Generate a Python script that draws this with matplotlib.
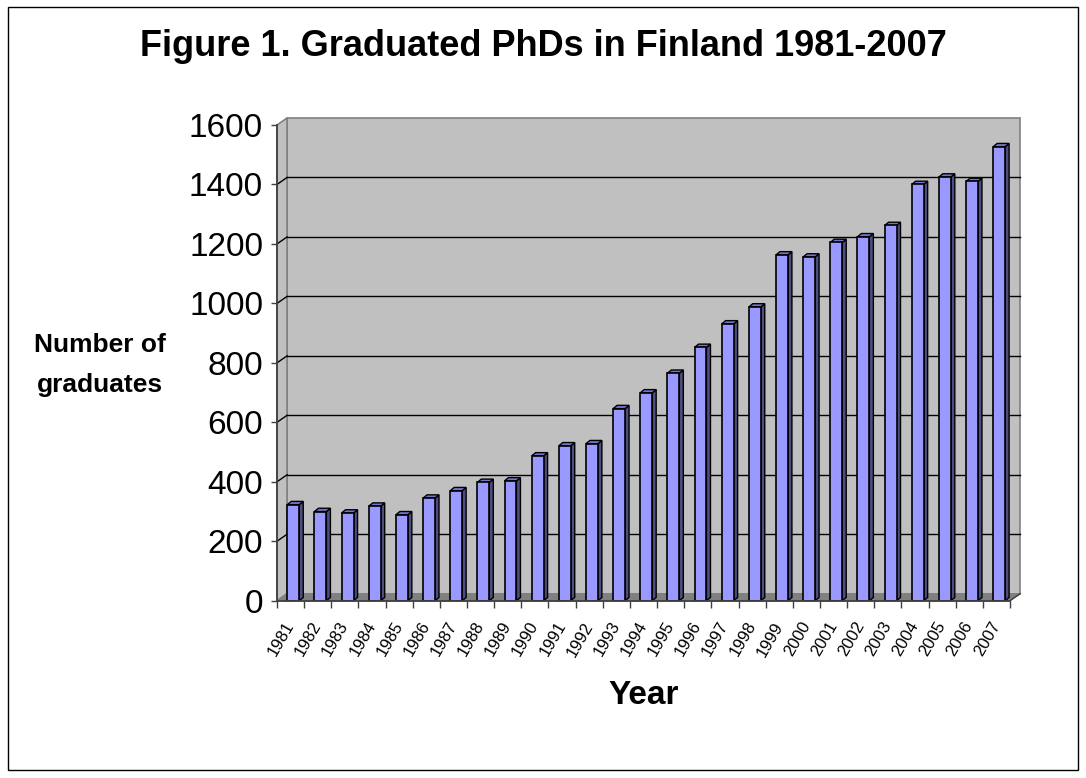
import matplotlib
matplotlib.use("Agg")
import matplotlib.pyplot as plt
from matplotlib.patches import Polygon, Rectangle
import numpy as np

plt.rcParams['font.family'] = ['Liberation Sans', 'DejaVu Sans']

years = ['1981', '1982', '1983', '1984', '1985', '1986', '1987', '1988', '1989',
         '1990', '1991', '1992', '1993', '1994', '1995', '1996', '1997', '1998',
         '1999', '2000', '2001', '2002', '2003', '2004', '2005', '2006', '2007']
graduates = [323, 300, 295, 318, 289, 345, 370, 398, 403, 487, 521, 528, 646, 699,
             765, 852, 931, 988, 1163, 1156, 1205, 1224, 1262, 1400, 1425, 1410, 1527]
y_ticks = [0, 200, 400, 600, 800, 1000, 1200, 1400, 1600]

title = 'Figure 1. Graduated PhDs in Finland 1981-2007'
ylabel = 'Number of\ngraduates'
xlabel = 'Year'

WALL = '#C0C0C0'
FLOOR = '#808080'
EDGE_GRAY = '#808080'
FRONT = '#9999FF'
SIDE = '#4D4D80'
TOP = '#7373CC'

fig = plt.figure(figsize=(10.86, 7.78), dpi=100)
fig.patch.set_facecolor('white')
fig.add_artist(Rectangle((8 / 1086, 8 / 778), 1 - 16 / 1086, 1 - 15 / 778,
                         transform=fig.transFigure, fill=False,
                         edgecolor='black', linewidth=1))

ax = fig.add_axes([277 / 1086, 1 - 600.7 / 778, 733 / 1086, 475.7 / 778])
ax.set_facecolor('none')

n = len(years)
x = np.arange(n)
x0, x1 = -0.5, n - 0.5
ymax = y_ticks[-1]
ax.set_xlim(x0, x1)
ax.set_ylim(0, ymax)

# 3D depth of the chart box (data units)
dx, dy = 0.37, 23.5

# back wall, side wall, floor
ax.add_patch(Polygon([(x0 + dx, dy), (x1 + dx, dy), (x1 + dx, ymax + dy), (x0 + dx, ymax + dy)],
                     closed=True, facecolor=WALL, edgecolor=EDGE_GRAY, lw=1.2,
                     clip_on=False, zorder=0))
ax.add_patch(Polygon([(x0, 0), (x0 + dx, dy), (x0 + dx, ymax + dy), (x0, ymax)],
                     closed=True, facecolor=WALL, edgecolor=EDGE_GRAY, lw=1.2,
                     clip_on=False, zorder=0.5))
ax.add_patch(Polygon([(x0, 0), (x1, 0), (x1 + dx, dy), (x0 + dx, dy)],
                     closed=True, facecolor=FLOOR, edgecolor=EDGE_GRAY, lw=1,
                     clip_on=False, zorder=0.5))

# gridlines on back wall and side wall
for v in y_ticks[1:-1]:
    ax.plot([x0 + dx, x1 + dx], [v + dy, v + dy], color='black', lw=1, zorder=1, clip_on=False)
    ax.plot([x0, x0 + dx], [v, v + dy], color='black', lw=1, zorder=1, clip_on=False)

# bars with faux 3D faces
bw = 0.44
shift = 0.1
bdx, bdy = 0.147, 11.0
for xi, v in zip(x, graduates):
    l = xi + shift - bw / 2
    r = xi + shift + bw / 2
    ax.add_patch(Polygon([(r, 0), (r + bdx, bdy), (r + bdx, v + bdy), (r, v)],
                         closed=True, facecolor=SIDE, edgecolor='black', lw=1,
                         zorder=2, clip_on=False))
    ax.add_patch(Polygon([(l, v), (r, v), (r + bdx, v + bdy), (l + bdx, v + bdy)],
                         closed=True, facecolor=TOP, edgecolor='black', lw=1,
                         zorder=2, clip_on=False))
ax.bar(x + shift, graduates, width=bw, color=FRONT, edgecolor='black', lw=1.2, zorder=3)

# floor front-right slant edge
ax.plot([x1, x1 + dx], [0, dy], color='#404040', lw=1, zorder=1, clip_on=False)

# spines
for s in ['top', 'right']:
    ax.spines[s].set_visible(False)
for s in ['left', 'bottom']:
    ax.spines[s].set_color('#404040')
    ax.spines[s].set_linewidth(1.3)
    ax.spines[s].set_zorder(4)

ax.set_yticks(y_ticks)
ax.set_yticklabels([str(t) for t in y_ticks])
ax.tick_params(axis='y', direction='out', length=4, width=1, color='#404040',
               labelsize=24, pad=6)

ax.set_xticks(x)
ax.set_xticklabels(years, rotation=60, ha='right', va='center', rotation_mode='anchor')
ax.set_xticks(np.arange(x0, x1 + 0.01, 1.0), minor=True)
ax.tick_params(axis='x', which='major', length=0, labelsize=12, pad=16)
ax.tick_params(axis='x', which='minor', direction='out', length=5, width=1, color='#404040')

fig.text(0.5, 1 - 47 / 778, title, ha='center', va='center', fontsize=26, fontweight='bold')
fig.text(100 / 1086, 1 - 365 / 778, ylabel, ha='center', va='center', fontsize=19,
         fontweight='bold', multialignment='center', linespacing=1.8)
fig.text(644 / 1086, 1 - 695 / 778, xlabel, ha='center', va='center', fontsize=24,
         fontweight='bold')

fig.savefig('out.png', dpi=100)
